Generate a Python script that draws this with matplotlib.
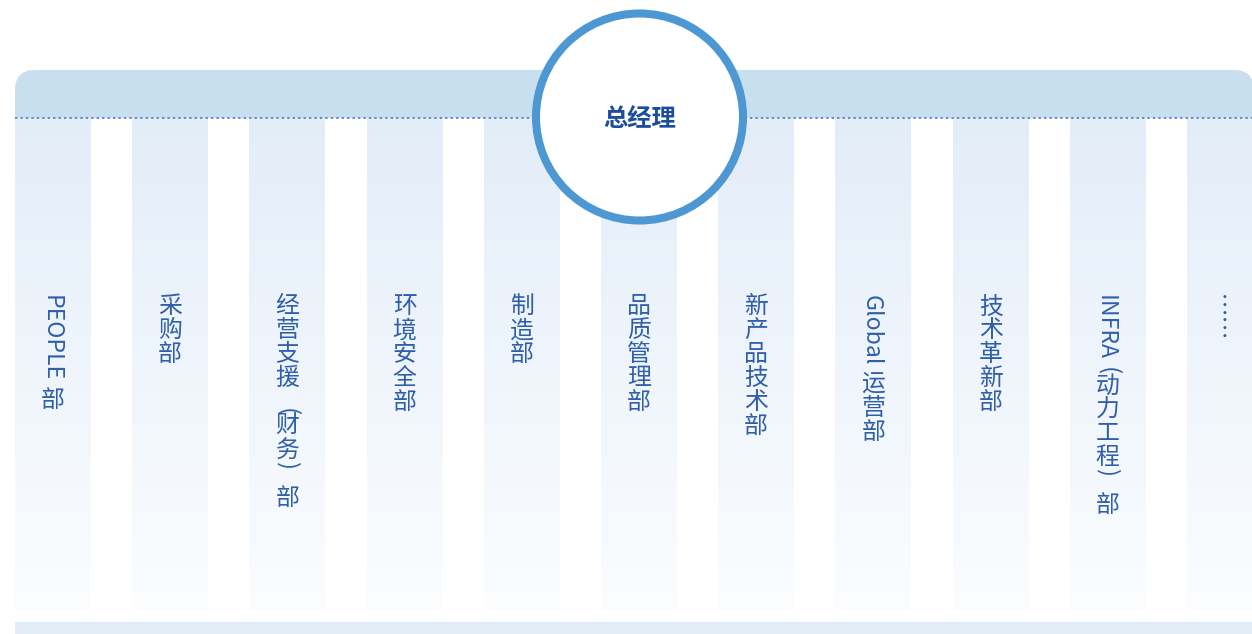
import numpy as np
import matplotlib
matplotlib.use('Agg')
import matplotlib.pyplot as plt
from matplotlib.patches import FancyBboxPatch, Rectangle, Circle
from matplotlib.colors import LinearSegmentedColormap

plt.rcParams['font.family'] = ['Noto Sans CJK SC', 'DejaVu Sans']

# chart content
head = '总经理'
depts = ['PEOPLE 部', '采购部', '经营支援（财务）部', '环境安全部', '制造部',
         '品质管理部', '新产品技术部', 'Global 运营部', '技术革新部',
         'INFRA（动力工程）部', '……']

# colours
band_c = '#c8dfef'
col_top = '#e3edf8'
col_bot = '#fbfdff'
foot_c = '#e3edf7'
dot_c = '#6689c2'
ring_c = '#4d98d2'
head_c = '#1b4d9c'
text_c = '#2f5fa8'

W, H = 1252, 634
fs = 17.2          # CJK glyphs
fs_lat = 16.6      # latin runs (rotated)
em = fs * 100 / 72.0
VMAP = {'…': '\ufe19'}
# full-width brackets: drawn as rotated half-width glyphs, offset inside their cell
PAREN = {'（': ('(', 0.88), '）': (')', 0.14)}


def is_wide(c):
  return ord(c) > 0x2E7F or c == '…'


def draw_vertical(ax, r, cx, y, s):
  kw = dict(color=text_c, zorder=4, fontweight='light')
  i = 0
  prev_latin = False
  while i < len(s):
    c = s[i]
    if is_wide(c):
      if c in PAREN:
        g, off = PAREN[c]
        if prev_latin:
          y -= 0.42 * em
        ax.text(cx, y + off * em, g, rotation=-90, ha='center', va='center',
                fontsize=fs, **kw)
      else:
        ax.text(cx, y + em / 2, VMAP.get(c, c), ha='center', va='center',
                fontsize=fs, **kw)
      y += em
      i += 1
      prev_latin = False
    else:
      j = i
      while j < len(s) and not is_wide(s[j]):
        j += 1
      run = s[i:j]
      word = run.rstrip()
      t = ax.text(cx - 0.37 * em, y, word, rotation=-90, rotation_mode='anchor',
                  ha='left', va='baseline', fontsize=fs_lat, **kw)
      bb = t.get_window_extent(renderer=r)
      y += bb.height + (len(run) - len(word)) * 0.3 * em
      i = j
      prev_latin = True


fig = plt.figure(figsize=(W / 100.0, H / 100.0), dpi=100)
ax = fig.add_axes([0, 0, 1, 1])
r = fig.canvas.get_renderer()

# top band with rounded corners, lower part covered by white
ax.add_patch(FancyBboxPatch((15, 70), W + 2 - 15, 90,
                            boxstyle='round,pad=0,rounding_size=20',
                            fc=band_c, ec='none', zorder=0))
ax.add_patch(Rectangle((0, 117.5), W, H, fc='white', ec='none', zorder=1))

# gradient columns
cmap = LinearSegmentedColormap.from_list('colgrad', [col_top, col_bot])
grad = np.linspace(0, 1, 256)[:, None]
pitch = 117.2
cw = 76
for k, name in enumerate(depts):
  x0 = 15 + k * pitch
  ax.imshow(grad, cmap=cmap, extent=(x0, x0 + cw, 610, 118), aspect='auto',
            interpolation='bilinear', zorder=2)
  draw_vertical(ax, r, x0 + cw / 2.0, 295, name)

# footer band
ax.add_patch(Rectangle((15, 622), W - 15 + 5, 14, fc=foot_c, ec='none', zorder=2))

# dotted separator
ax.plot([15, W], [117.5, 117.5], color=dot_c, lw=1.4, linestyle=(0, (1.2, 1.6)),
        zorder=3)

# central circle
ax.add_patch(Circle((639.5, 117), 103.5, fc='white', ec=ring_c, lw=5.8, zorder=5))
ax.text(639.5, 119, head, fontsize=17.5, fontweight='bold', color=head_c,
        ha='center', va='center', zorder=6)

ax.set_xlim(0, W)
ax.set_ylim(H, 0)
ax.axis('off')

fig.savefig('out.png', dpi=100, facecolor='white')
